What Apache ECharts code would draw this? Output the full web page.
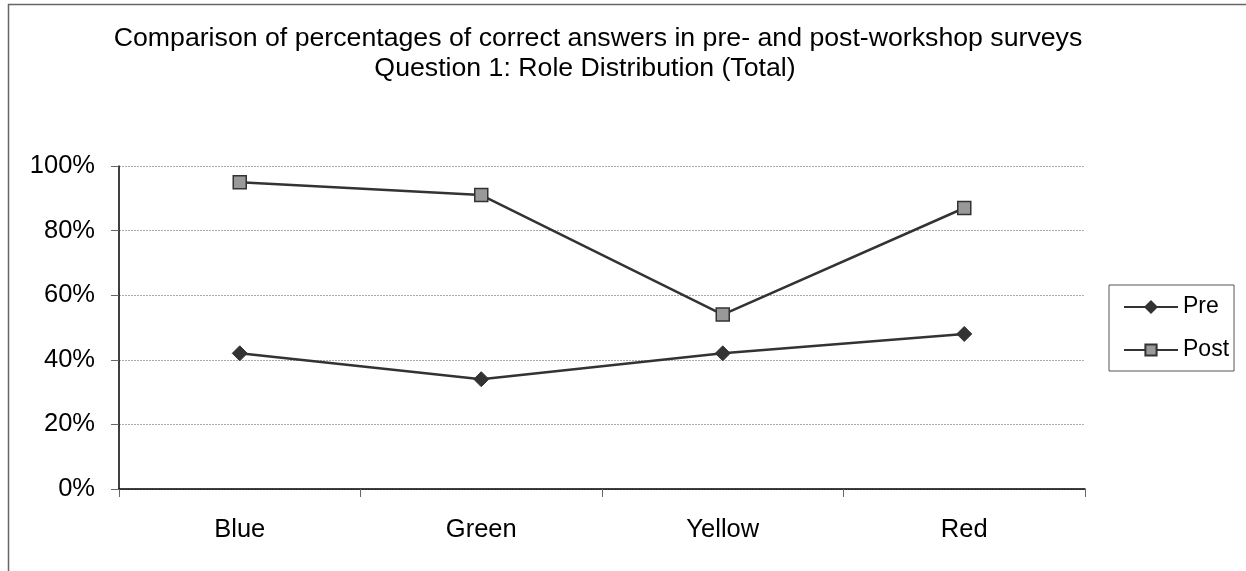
<!DOCTYPE html>
<html>
<head>
<meta charset="utf-8">
<script src="https://cdn.jsdelivr.net/npm/echarts@6/dist/echarts.min.js"></script>
<style>
  html, body { margin: 0; padding: 0; background: #fff; }
  #chart { width: 1246px; height: 571px; }
</style>
</head>
<body>
<div id="chart"></div>
<script>
// Survey results: share of correct answers per role colour
const categories = ['Blue', 'Green', 'Yellow', 'Red'];
const preValues = [42, 34, 42, 48];
const postValues = [95, 91, 54, 87];
const yTicks = [0, 20, 40, 60, 80, 100];
const titleLines = [
  'Comparison of percentages of correct answers in pre- and post-workshop surveys',
  'Question 1: Role Distribution (Total)'
];

const FONT = 'Liberation Sans, Arial, sans-serif';
const titleText = { fontFamily: FONT, fontSize: 26.7, fontWeight: 'normal', color: '#000', lineHeight: 30 };
const chart = echarts.init(document.getElementById('chart'));

chart.setOption({
  animation: false,
  backgroundColor: '#fff',
  graphic: [{
    type: 'rect',
    shape: { x: 8.5, y: 4.5, width: 1400, height: 700 },
    style: { fill: 'none', stroke: '#666', lineWidth: 1.5 },
    silent: true
  }],
  title: [
    { text: titleLines[0], left: 598, top: 24, padding: 0, textAlign: 'center', textStyle: titleText },
    { text: titleLines[1], left: 585, top: 54, padding: 0, textAlign: 'center', textStyle: titleText }
  ],
  legend: {
    orient: 'vertical',
    left: 1109,
    top: 285,
    padding: [9, 5, 8, 14],
    itemGap: 17,
    itemWidth: 54,
    itemHeight: 14,
    borderColor: '#555',
    borderWidth: 1,
    textStyle: { fontFamily: FONT, fontSize: 23, color: '#000', lineHeight: 26 },
    data: ['Pre', 'Post']
  },
  grid: { left: 119, right: 161, top: 166, bottom: 82 },
  xAxis: {
    type: 'category',
    data: categories,
    boundaryGap: true,
    axisLine: { lineStyle: { color: '#000', width: 1.5 } },
    axisTick: { show: true, length: 8, lineStyle: { color: '#666', width: 1 } },
    axisLabel: { fontFamily: FONT, fontSize: 25.5, color: '#000', margin: 28 }
  },
  yAxis: {
    type: 'value',
    min: yTicks[0],
    max: yTicks[yTicks.length - 1],
    interval: yTicks[1] - yTicks[0],
    axisLine: { show: true, lineStyle: { color: '#000', width: 1.5 } },
    axisTick: { show: true, length: 8, lineStyle: { color: '#666', width: 1 } },
    axisLabel: { fontFamily: FONT, fontSize: 25.5, color: '#000', margin: 24, formatter: '{value}%' },
    splitLine: { show: true, lineStyle: { color: '#aaa', type: [2, 1], width: 1 } }
  },
  series: [
    {
      name: 'Pre',
      type: 'line',
      data: preValues,
      symbol: 'diamond',
      symbolSize: 15,
      lineStyle: { color: '#333', width: 2.5 },
      itemStyle: { color: '#333', borderColor: '#333', borderWidth: 1 }
    },
    {
      name: 'Post',
      type: 'line',
      data: postValues,
      symbol: 'rect',
      symbolSize: 13,
      lineStyle: { color: '#333', width: 2.5 },
      itemStyle: { color: '#999', borderColor: '#333', borderWidth: 1.5 }
    }
  ]
});
</script>
</body>
</html>
